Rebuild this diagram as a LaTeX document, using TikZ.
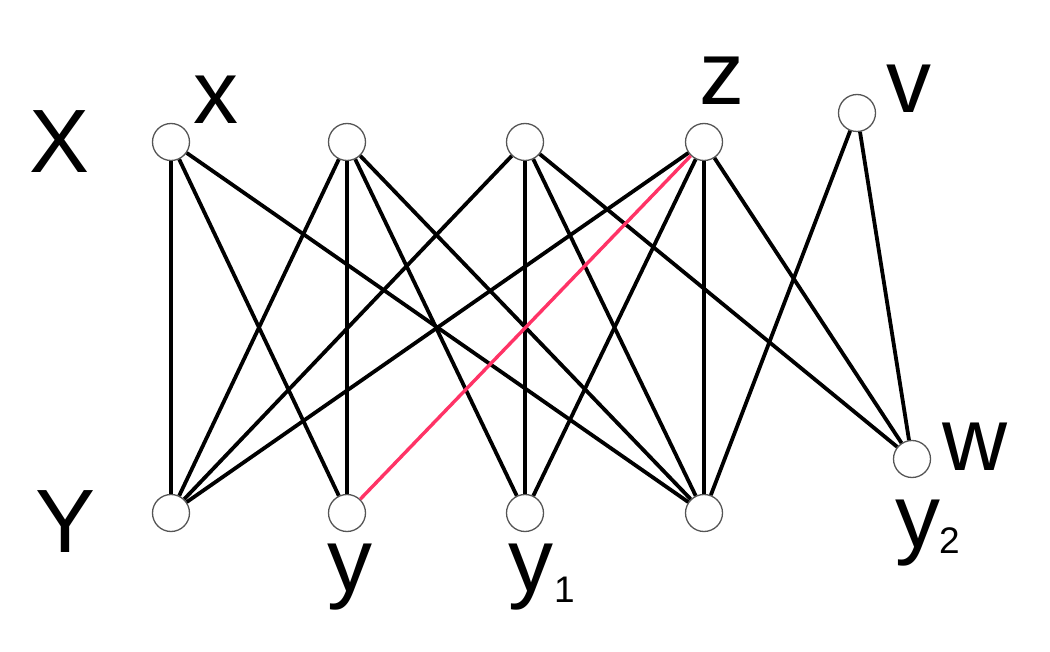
\documentclass[tikz,border=0pt]{standalone}
\usepackage{fontspec}
\setmainfont{Liberation Sans}
\definecolor{redge}{HTML}{FF3366}
\definecolor{ring}{HTML}{555555}
\begin{document}
\begin{tikzpicture}[x=1pt,y=-1pt,
  vert/.style={circle,draw=ring,line width=1.3pt,fill=white,minimum size=37pt,inner sep=0pt},
  edge/.style={draw=black,line width=3.8pt},
  hot/.style={draw=redge,line width=3.4pt},
  lbl/.style={inner sep=0pt,font=\fontsize{90}{90}\selectfont}]
\useasboundingbox (0,0) rectangle (1050,652);
% vertices
\node[vert] (t1) at (171,142) {};
\node[vert] (t2) at (347,142) {};
\node[vert] (t3) at (525,142) {};
\node[vert] (t4) at (704,142) {};
\node[vert] (v)  at (857,113) {};
\node[vert] (b1) at (171,513) {};
\node[vert] (b2) at (347,513) {};
\node[vert] (b3) at (525,513) {};
\node[vert] (b4) at (704,513) {};
\node[vert] (w)  at (912,459) {};
% edges
\draw[edge] (t1) -- (b1);
\draw[edge] (t1) -- (b2);
\draw[edge] (t1) -- (b4);
\draw[edge] (t2) -- (b1);
\draw[edge] (t2) -- (b2);
\draw[edge] (t2) -- (b3);
\draw[edge] (t2) -- (b4);
\draw[edge] (t3) -- (b1);
\draw[edge] (t3) -- (b3);
\draw[edge] (t3) -- (b4);
\draw[edge] (t3) -- (w);
\draw[edge] (t4) -- (b1);
\draw[edge] (t4) -- (b3);
\draw[edge] (t4) -- (b4);
\draw[edge] (t4) -- (w);
\draw[edge] (v) -- (b4);
\draw[edge] (v) -- (w);
\draw[hot] (t4) -- (b2);
% labels
\node[lbl,anchor=base] (lX) at (60,173) {X};
\node[lbl,anchor=base] (lx) at (216,124) {x};
\node[lbl,anchor=base] (lY) at (66,552) {Y};
\node[lbl,anchor=base] (ly) at (350,591) {y};
\node[lbl,anchor=base west] (ly1) at (508,591) {y\hspace{1pt}\raisebox{-11pt}{\fontsize{37}{37}\selectfont 1}};
\node[lbl,anchor=base] (lz) at (722,105) {z};
\node[lbl,anchor=base] (lv) at (909,113) {v};
\node[lbl,anchor=base] (lw) at (975,470) {w};
\node[lbl,anchor=base west] (ly2) at (895,547) {y\hspace{-1pt}\raisebox{-6pt}{\fontsize{37}{37}\selectfont 2}};
\end{tikzpicture}
\end{document}
